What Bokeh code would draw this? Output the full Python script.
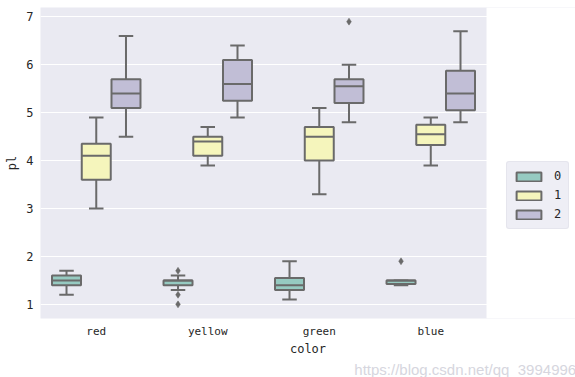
from bokeh.plotting import figure
from bokeh.models import (ColumnDataSource, Range1d, Legend, LegendItem,
                          FixedTicker, Title, BoxAnnotation)
from bokeh.transform import dodge
from bokeh.embed import file_html
from bokeh.resources import INLINE

# ---- data ----
colors = ["red", "yellow", "green", "blue"]
hues = ["0", "1", "2"]

lo0 = [1.2, 1.3, 1.1, 1.4]
q1_0 = [1.4, 1.4, 1.3, 1.425]
med0 = [1.5, 1.5, 1.4, 1.5]
q3_0 = [1.6, 1.5, 1.55, 1.5]
hi0 = [1.7, 1.6, 1.9, 1.5]

lo1 = [3.0, 3.9, 3.3, 3.9]
q1_1 = [3.6, 4.1, 4.0, 4.325]
med1 = [4.1, 4.4, 4.5, 4.55]
q3_1 = [4.35, 4.5, 4.7, 4.75]
hi1 = [4.9, 4.7, 5.1, 4.9]

lo2 = [4.5, 4.9, 4.8, 4.8]
q1_2 = [5.1, 5.25, 5.2, 5.05]
med2 = [5.4, 5.6, 5.55, 5.4]
q3_2 = [5.7, 6.1, 5.7, 5.875]
hi2 = [6.6, 6.4, 6.0, 6.7]

out_color = ["yellow", "yellow", "yellow", "green", "blue"]
out_hue = ["0", "0", "0", "2", "0"]
out_value = [1.7, 1.2, 1.0, 6.9, 1.9]

y_ticks = [1, 2, 3, 4, 5, 6, 7]
watermark = "https://blog.csdn.net/qq_39949963"

# ---- styling ----
fills = ["#96cac1", "#f5f5bc", "#c1bed6"]
edge = "#6a6a6a"
offsets = [-0.2667, 0.0, 0.2667]
box_w = 0.26
cap_w = 0.13
mono = "DejaVu Sans Mono"
legend_room = 0.798   # extra x extent (in category units) kept white for the legend

xi = list(range(len(colors)))
x_end = len(colors) - 0.5

p = figure(width=575, height=377, x_range=Range1d(-0.5, x_end + legend_room),
           y_range=Range1d(0.705, 7.195), output_backend="svg", toolbar_location=None,
           min_border_left=40, min_border_right=0, min_border_top=7, min_border_bottom=45)
p.background_fill_color = "#eaeaf2"
p.border_fill_color = "white"
p.outline_line_color = None
p.xgrid.grid_line_color = None
p.ygrid.grid_line_color = "white"
p.ygrid.grid_line_width = 1.2
p.yaxis.ticker = FixedTicker(ticks=y_ticks)
p.xaxis.ticker = FixedTicker(ticks=xi)
p.xaxis.major_label_overrides = {i: c for i, c in zip(xi, colors)}

for ax in (p.xaxis[0], p.yaxis[0]):
    ax.axis_line_color = None
    ax.major_tick_line_color = None
    ax.minor_tick_line_color = None
    ax.major_tick_out = 0
    ax.major_tick_in = 0
    ax.major_label_text_color = "#262626"
    ax.axis_label_text_color = "#262626"
    ax.axis_label_text_font_style = "normal"
    ax.major_label_text_font = mono
    ax.axis_label_text_font = mono

p.xaxis.major_label_text_font_size = "11px"
p.yaxis.major_label_text_font_size = "12px"
p.xaxis.major_label_standoff = 6
p.yaxis.major_label_standoff = 7
p.xaxis.axis_label = "color"
p.yaxis.axis_label = "pl"
p.xaxis.axis_label_text_font_size = "12px"
p.yaxis.axis_label_text_font_size = "12px"
p.xaxis.axis_label_standoff = 1
p.yaxis.axis_label_standoff = 4

# white area right of the axes region (where the legend sits)
p.add_layout(BoxAnnotation(left=x_end, fill_color="white", fill_alpha=1.0,
                           line_color=None, line_alpha=0))

stats = [(lo0, q1_0, med0, q3_0, hi0), (lo1, q1_1, med1, q3_1, hi1), (lo2, q1_2, med2, q3_2, hi2)]
items = []
for i, (lo, q1, med, q3, hi) in enumerate(stats):
    src = ColumnDataSource(dict(xi=xi, lo=lo, q1=q1, med=med, q3=q3, hi=hi))
    off = offsets[i]
    xc = dodge("xi", off)
    xl = dodge("xi", off - cap_w / 2)
    xr = dodge("xi", off + cap_w / 2)
    p.segment(x0=xc, y0="q3", x1=xc, y1="hi", source=src, line_color=edge, line_width=2)
    p.segment(x0=xc, y0="lo", x1=xc, y1="q1", source=src, line_color=edge, line_width=2)
    p.segment(x0=xl, y0="hi", x1=xr, y1="hi", source=src, line_color=edge, line_width=2)
    p.segment(x0=xl, y0="lo", x1=xr, y1="lo", source=src, line_color=edge, line_width=2)
    r = p.vbar(x=xc, width=box_w, bottom="q1", top="q3", source=src,
               fill_color=fills[i], line_color=edge, line_width=2)
    p.segment(x0=dodge("xi", off - box_w / 2), y0="med",
              x1=dodge("xi", off + box_w / 2), y1="med",
              source=src, line_color=edge, line_width=2)
    items.append(LegendItem(label=hues[i], renderers=[r]))

for i, h in enumerate(hues):
    idx = [k for k, hh in enumerate(out_hue) if hh == h]
    if not idx:
        continue
    s = ColumnDataSource(dict(xi=[colors.index(out_color[k]) for k in idx],
                              v=[out_value[k] for k in idx]))
    p.scatter(x=dodge("xi", offsets[i]), y="v", source=s,
              marker="diamond", size=7, fill_color=edge, line_color=edge, line_width=0.5)

legend = Legend(items=items, location=(466, 89), orientation="vertical")
legend.background_fill_color = "#eeeef5"
legend.background_fill_alpha = 1.0
legend.border_line_color = "#dcdce6"
legend.border_line_width = 1
legend.border_radius = 3
legend.glyph_width = 31
legend.glyph_height = 11
legend.label_height = 16
legend.label_width = 8
legend.spacing = 3
legend.padding = 6
legend.margin = 0
legend.label_standoff = 10
legend.label_text_font = mono
legend.label_text_font_size = "12px"
legend.label_text_color = "#262626"
p.add_layout(legend, "center")

wm = Title(text=watermark, align="right", offset=-9, standoff=0,
           text_font="Liberation Sans", text_font_size="15px",
           text_font_style="normal", text_color="#d6d6de")
p.add_layout(wm, "below")

open("out.html", "w").write(file_html(p, INLINE))
